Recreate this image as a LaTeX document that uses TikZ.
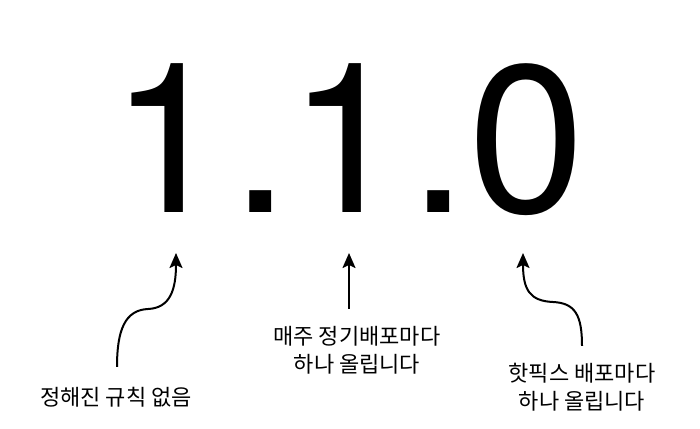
\documentclass[tikz,border=0pt]{standalone}
\usepackage{fontspec}
\setmainfont{TeX Gyre Heros}
\newfontfamily\kr{Noto Sans CJK KR}
\usetikzlibrary{positioning,calc,arrows.meta}
\tikzset{ARROW/.style={line width=2pt, -{Stealth[length=15pt,width=13pt,inset=3pt]}}}
\tikzset{DIGIT/.style={inner sep=0pt, anchor=base, font=\fontsize{210}{210}\selectfont}}
\tikzset{NOTE/.style={inner sep=0pt, align=center, font=\kr\fontsize{22}{28}\selectfont}}

\begin{document}
\begin{tikzpicture}[x=1pt,y=-1pt]
    \useasboundingbox (0,0) rectangle (700,428);

    \node[DIGIT] (n_major) at (169,212) {1};
    \node[DIGIT] (n_dot1) at (260.5,212) {.};
    \node[DIGIT] (n_minor) at (347,212) {1};
    \node[DIGIT] (n_dot2) at (438.5,212) {.};
    \node[DIGIT] (n_patch) at (526.5,212) {0};

    \node[NOTE] (n_major_note) at (116,397) {정해진 규칙 없음};
    \node[NOTE] (n_minor_note) at (357,350) {매주 정기배포마다\\하나 올립니다};
    \node[NOTE] (n_patch_note) at (582,387) {핫픽스 배포마다\\하나 올립니다};

    \coordinate (major_start) at ($(n_major_note.north)+(1,-20)$);
    \coordinate (major_end) at (176,253);
    \draw[ARROW] (major_start) .. controls (117,330) and (125,310) .. (148,309)
        .. controls (170,308) and (176,290) .. (major_end);

    \coordinate (minor_start) at ($(n_minor_note.north-|n_minor.south)+(2,-17)$);
    \coordinate (minor_end) at (349,253);
    \draw[ARROW] (minor_start) -- (minor_end);

    \coordinate (patch_start) at ($(n_patch_note.north)+(0,-17)$);
    \coordinate (patch_end) at (523,253);
    \draw[ARROW] (patch_start) .. controls (582,315) and (575,303) .. (553,302)
        .. controls (530,301) and (523,290) .. (patch_end);

\end{tikzpicture}
\end{document}
